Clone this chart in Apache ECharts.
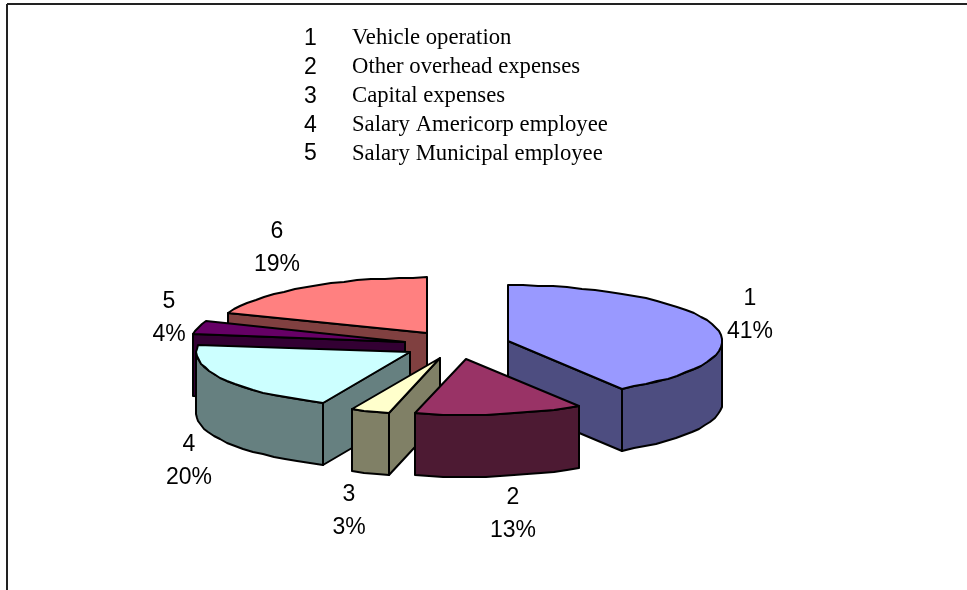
<!DOCTYPE html>
<html>
<head>
<meta charset="utf-8">
<style>
html, body { margin: 0; padding: 0; background: #fff; }
#pie { width: 967px; height: 590px; }
</style>
<script src="https://cdn.jsdelivr.net/npm/echarts@6/dist/echarts.min.js"></script>
</head>
<body>
<div id="pie"></div>
<script>
var sliceNames = ['1', '2', '3', '4', '5', '6'];
var sliceValues = [41.1, 12.7, 2.9, 20.3, 4, 19];
var legendNumbers = ['1', '2', '3', '4', '5'];
var legendNames = ['Vehicle operation', 'Other overhead expenses', 'Capital expenses', 'Salary Americorp employee', 'Salary Municipal employee'];

var topColors = ['#9999ff', '#993366', '#ffffcc', '#ccffff', '#660066', '#ff8080'];
var sideColors = ['#4d4d80', '#4d1a33', '#808066', '#668080', '#330033', '#804040'];
// painter's order, back to front
var drawRank = [1, 5, 4, 3, 2, 0];
// nudge of each label from the rim of its slice
var labelNudge = [[36, -11], [13, 38], [-21, 38], [-35, 20], [-29, -10], [-30, -39]];

var cx = 457, cy = 345;
var rx = 214, ry = 56, depth = 62, explode = 53.5;

var total = 0;
for (var t = 0; t < sliceValues.length; t++) {
    total += sliceValues[t];
}

function rim(x, y, a) {
    return [Math.round(x + rx * Math.sin(a)), Math.round(y - ry * Math.cos(a))];
}

function arcPoints(x, y, from, to, drop) {
    var pts = [];
    var n = Math.max(1, Math.ceil((to - from) / (4 * Math.PI / 180)));
    for (var i = 0; i <= n; i++) {
        var p = rim(x, y, from + (to - from) * i / n);
        pts.push([p[0], p[1] + drop]);
    }
    return pts;
}

function face(points, fill, z2) {
    return {
        type: 'polygon',
        z2: z2,
        shape: { points: points },
        style: { fill: fill, stroke: '#000', lineWidth: 2, lineJoin: 'round' }
    };
}

function renderSlice(params, api) {
    var idx = params.dataIndex;
    var before = 0;
    for (var i = 0; i < idx; i++) {
        before += sliceValues[i];
    }
    var from = before / total * Math.PI * 2;
    var to = (before + api.value(1)) / total * Math.PI * 2;
    var mid = (from + to) / 2;
    var x = cx + explode * Math.sin(mid);
    var y = cy - explode * (ry / rx) * Math.cos(mid);
    var ax = Math.round(x), ay = Math.round(y);
    var base = drawRank[idx] * 10 + 1;
    var kids = [];

    // the two cut faces, only when they look towards the viewer
    if (Math.sin(from) < -0.001) {
        var s = rim(x, y, from);
        kids.push(face([[ax, ay], s, [s[0], s[1] + depth], [ax, ay + depth]], sideColors[idx], base));
    }
    if (Math.sin(to) > 0.001) {
        var e = rim(x, y, to);
        kids.push(face([[ax, ay], e, [e[0], e[1] + depth], [ax, ay + depth]], sideColors[idx], base));
    }

    // outer wall, front half of the ellipse only
    var wallFrom = Math.max(from, Math.PI / 2);
    var wallTo = Math.min(to, Math.PI * 1.5);
    if (wallTo > wallFrom) {
        var upper = arcPoints(x, y, wallFrom, wallTo, 0);
        var lower = arcPoints(x, y, wallFrom, wallTo, depth).reverse();
        kids.push(face(upper.concat(lower), sideColors[idx], base + 1));
    }

    kids.push(face([[ax, ay]].concat(arcPoints(x, y, from, to, 0)), topColors[idx], base + 2));

    // label sits off the rim, under the wall for the front slices
    var r = rim(x, y, mid);
    var front = Math.cos(mid) < -0.3 ? depth : 0;
    kids.push({
        type: 'text',
        z2: 100,
        style: {
            x: r[0] + labelNudge[idx][0],
            y: r[1] + front + labelNudge[idx][1],
            text: api.value(0) + '\n' + Math.round(api.value(1)) + '%',
            fill: '#000',
            font: '23px "Liberation Sans"',
            lineHeight: 33,
            align: 'center',
            verticalAlign: 'middle'
        }
    });

    return { type: 'group', children: kids };
}

var legendText = [];
for (var k = 0; k < legendNames.length; k++) {
    legendText.push({
        type: 'text',
        left: 304,
        top: 27 + k * 28.9,
        style: { text: legendNumbers[k], fill: '#000', font: '23px "Liberation Sans"' }
    });
    legendText.push({
        type: 'text',
        left: 352,
        top: 27 + k * 28.9,
        style: { text: legendNames[k], fill: '#000', font: '22.7px "Liberation Serif"' }
    });
}

var frame = [
    { type: 'line', shape: { x1: 7, y1: 4, x2: 967, y2: 4 }, style: { stroke: '#222', lineWidth: 2 } },
    { type: 'line', shape: { x1: 7, y1: 4, x2: 7, y2: 590 }, style: { stroke: '#222', lineWidth: 2 } }
];

var data = [];
for (var d = 0; d < sliceNames.length; d++) {
    data.push([sliceNames[d], sliceValues[d]]);
}

var myChart = echarts.init(document.getElementById('pie'));
var option = {
    animation: false,
    backgroundColor: '#fff',
    graphic: { elements: frame.concat(legendText) },
    series: [{
        type: 'custom',
        coordinateSystem: 'none',
        silent: true,
        encode: { value: 1 },
        dimensions: [{ name: 'name', type: 'ordinal' }, { name: 'share', type: 'number' }],
        renderItem: renderSlice,
        data: data
    }]
};
myChart.setOption(option);
</script>
</body>
</html>
